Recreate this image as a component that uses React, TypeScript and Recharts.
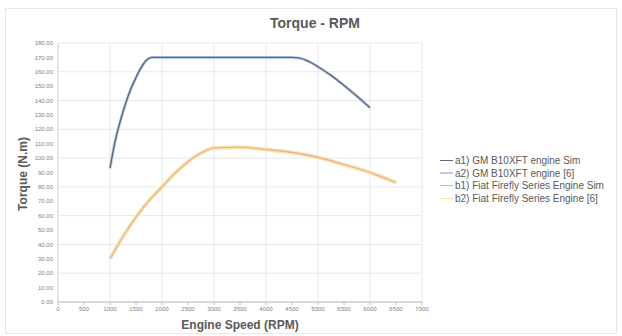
import React from 'react';
import { LineChart, Line, XAxis, YAxis, CartesianGrid, Legend } from 'recharts';

// Engine speed samples (rpm) and torque (N.m) for each curve
const gmSimRpm = [1000, 1100, 1200, 1300, 1400, 1500, 1600, 1700, 1800, 2500, 3500, 4500, 4650, 4800, 5000, 5250, 5500, 5750, 6000];
const gmSimTorque = [93, 112, 126, 138, 148, 156, 163, 168, 170, 170, 170, 170, 169.5, 167.5, 163.5, 157.5, 150.5, 143, 135];

const gmRefRpm = [1000, 1100, 1200, 1300, 1400, 1500, 1600, 1700, 1800, 2500, 3500, 4500, 4650, 4800, 5000, 5250, 5500, 5750, 6000];
const gmRefTorque = [93, 112, 126, 138, 148, 156, 163, 168, 170, 170, 170, 170, 169.5, 167.5, 163.5, 157.5, 150.5, 143, 135];

const fiatSimRpm = [1000, 1250, 1500, 1750, 2000, 2250, 2500, 2750, 3000, 3500, 4000, 4500, 5000, 5500, 6000, 6500];
const fiatSimTorque = [30, 45.5, 59, 70.5, 80, 89.5, 97.5, 103.5, 107, 107.5, 106, 104, 100.5, 95.5, 90, 83];

const fiatRefRpm = [1000, 1250, 1500, 1750, 2000, 2250, 2500, 2750, 3000, 3500, 4000, 4500, 5000, 5500, 6000, 6500];
const fiatRefTorque = [30, 45.5, 59, 70.5, 80, 89.5, 97.5, 103.5, 107, 107.5, 106, 104, 100.5, 95.5, 90, 83];

const xTicks = [0, 500, 1000, 1500, 2000, 2500, 3000, 3500, 4000, 4500, 5000, 5500, 6000, 6500, 7000];
const yTicks = [0, 10, 20, 30, 40, 50, 60, 70, 80, 90, 100, 110, 120, 130, 140, 150, 160, 170, 180];

const seriesNames = [
  'a1) GM B10XFT engine Sim',
  'a2) GM B10XFT engine [6]',
  'b1) Fiat Firefly Series Engine Sim',
  'b2) Fiat Firefly Series Engine [6]',
];

const toPoints = (rpm: number[], torque: number[]) =>
  rpm.map((r, i) => ({ rpm: r, torque: torque[i] }));

const FONT = '"Liberation Sans", Arial, sans-serif';
const TEXT = '#595959';

const LegendContent = (props: any) => {
  const payload = (props.payload || []).slice().sort(
    (a: any, b: any) => seriesNames.indexOf(a.value) - seriesNames.indexOf(b.value)
  );
  return (
    <div style={{ fontFamily: FONT, fontSize: 10, color: TEXT }}>
      {payload.map((p: any) => (
        <div key={p.value} style={{ display: 'flex', alignItems: 'center', height: 12.7, whiteSpace: 'nowrap' }}>
          <span style={{ display: 'inline-block', width: 13, height: 1.5, background: p.color, marginRight: 2 }} />
          <span>{p.value}</span>
        </div>
      ))}
    </div>
  );
};

export default function App() {
  return (
    <div style={{ position: 'absolute', left: 0, top: 0, width: 622, height: 336, background: '#fff' }}>
      <div
        style={{
          position: 'absolute', left: 5, top: 8, width: 612, height: 326,
          border: '1px solid #e8e8e8', boxSizing: 'border-box',
        }}
      />
      <LineChart
        width={622}
        height={336}
        margin={{ top: 43, right: 200, bottom: 14, left: 0 }}
        style={{ position: 'absolute', left: 0, top: 0 }}
      >
        <CartesianGrid stroke="#e2e2e2" strokeWidth={0.8} />
        <XAxis
          type="number"
          dataKey="rpm"
          domain={[0, 7000]}
          ticks={xTicks}
          height={20}
          tickSize={3}
          tickMargin={2}
          axisLine={{ stroke: '#bfbfbf' }}
          tickLine={{ stroke: '#bfbfbf' }}
          tick={{ fontSize: 6, fill: '#7f7f7f', fontFamily: FONT }}
          allowDuplicatedCategory={false}
        />
        <YAxis
          type="number"
          dataKey="torque"
          domain={[0, 180]}
          ticks={yTicks}
          width={58}
          tickSize={3}
          tickMargin={2}
          axisLine={{ stroke: '#d9d9d9' }}
          tickLine={false}
          tick={{ fontSize: 6, fill: '#7f7f7f', fontFamily: FONT }}
          tickFormatter={(v: number) => v.toFixed(2)}
        />
        <Legend
          layout="vertical"
          align="center"
          verticalAlign="middle"
          content={LegendContent}
          wrapperStyle={{ left: 440, top: 154, width: 180 }}
        />
        <Line
          name={seriesNames[1]}
          data={toPoints(gmRefRpm, gmRefTorque)}
          dataKey="torque"
          type="monotone"
          stroke="#b7cfe9"
          strokeWidth={3}
          dot={false}
          isAnimationActive={false}
        />
        <Line
          name={seriesNames[0]}
          data={toPoints(gmSimRpm, gmSimTorque)}
          dataKey="torque"
          type="monotone"
          stroke="#636877"
          strokeWidth={1.4}
          dot={false}
          isAnimationActive={false}
        />
        <Line
          name={seriesNames[3]}
          data={toPoints(fiatRefRpm, fiatRefTorque)}
          dataKey="torque"
          type="monotone"
          stroke="#f8e6a8"
          strokeWidth={4}
          dot={false}
          isAnimationActive={false}
        />
        <Line
          name={seriesNames[2]}
          data={toPoints(fiatSimRpm, fiatSimTorque)}
          dataKey="torque"
          type="monotone"
          stroke="#e8ab9c"
          strokeWidth={1.1}
          dot={false}
          isAnimationActive={false}
        />
      </LineChart>
      <div
        style={{
          position: 'absolute', left: 315, top: 15, transform: 'translateX(-50%)', whiteSpace: 'nowrap',
          fontFamily: FONT, fontWeight: 'bold', fontSize: 14, color: TEXT,
        }}
      >
        Torque - RPM
      </div>
      <div
        style={{
          position: 'absolute', left: 240, top: 318, transform: 'translateX(-50%)', whiteSpace: 'nowrap',
          fontFamily: FONT, fontWeight: 'bold', fontSize: 12, color: TEXT,
        }}
      >
        Engine Speed (RPM)
      </div>
      <div
        style={{
          position: 'absolute', left: 23, top: 174, transform: 'translate(-50%, -50%) rotate(-90deg)', whiteSpace: 'nowrap',
          fontFamily: FONT, fontWeight: 'bold', fontSize: 12, color: TEXT,
        }}
      >
        Torque (N.m)
      </div>
    </div>
  );
}
